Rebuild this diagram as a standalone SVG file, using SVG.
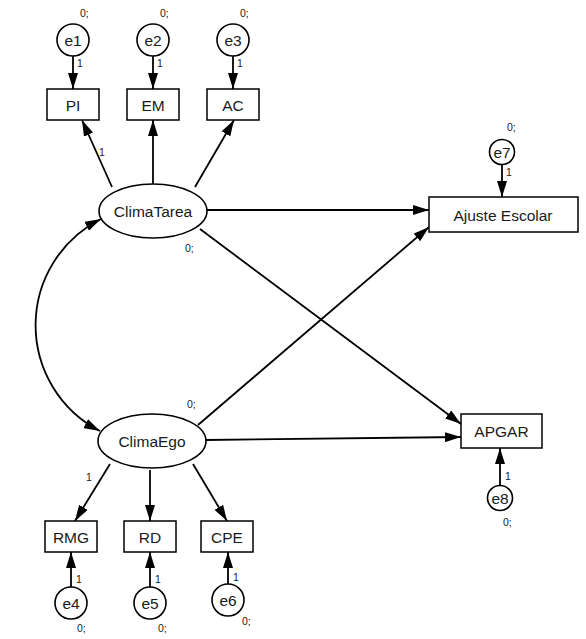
<svg xmlns="http://www.w3.org/2000/svg" width="586" height="639" viewBox="0 0 586 639">
<defs>
<marker id="ah" markerUnits="userSpaceOnUse" markerWidth="16" markerHeight="10" refX="16" refY="5" orient="auto-start-reverse">
<path d="M0,0 L16,5 L0,10 z" fill="#000"/>
</marker>
<style>
.box{fill:#fff;stroke:#000;stroke-width:1.5}
.lat{fill:#fff;stroke:#000;stroke-width:1.6}
.t{font-family:"Liberation Sans",Arial,sans-serif;font-size:15.5px;text-anchor:middle;dominant-baseline:central;fill:#1a1a1a}
.s{font-family:"Liberation Sans",Arial,sans-serif;font-size:10.5px;fill:#1a1a1a}
.c line,.c path{stroke:#000;stroke-width:1.8;fill:none;marker-end:url(#ah)}
</style>
</defs>
<rect width="586" height="639" fill="#fff"/>
<g class="c" id="connectors">
<line x1="73" y1="56" x2="73" y2="89"/>
<line x1="153" y1="56" x2="153" y2="89"/>
<line x1="233" y1="56" x2="233" y2="89"/>
<line x1="112" y1="187" x2="82" y2="120"/>
<line x1="153" y1="184" x2="153" y2="120"/>
<line x1="195" y1="187" x2="234" y2="120"/>
<line x1="207" y1="210" x2="429" y2="210"/>
<line x1="200" y1="229" x2="461" y2="424"/>
<line x1="198" y1="425" x2="429" y2="227"/>
<line x1="206" y1="440" x2="461" y2="437"/>
<path d="M101,219 A119,119 0 0 0 100,431" style="marker-start:url(#ah)"/>
<line x1="110" y1="464" x2="75" y2="521"/>
<line x1="150" y1="470" x2="150" y2="521"/>
<line x1="193" y1="464" x2="227" y2="521"/>
<line x1="71" y1="587" x2="71" y2="552"/>
<line x1="150" y1="587" x2="150" y2="552"/>
<line x1="228" y1="584" x2="228" y2="552"/>
<line x1="502" y1="165" x2="502" y2="197"/>
<line x1="500" y1="486" x2="500" y2="448"/>
</g>
<g id="labels">
<text class="s" x="77" y="67">1</text>
<text class="s" x="157" y="67">1</text>
<text class="s" x="237" y="67">1</text>
<text class="s" x="99" y="156">1</text>
<text class="s" x="86" y="481">1</text>
<text class="s" x="76" y="583">1</text>
<text class="s" x="155" y="583">1</text>
<text class="s" x="233" y="581">1</text>
<text class="s" x="506" y="176">1</text>
<text class="s" x="505" y="480">1</text>
</g>
<g id="e1"><circle cx="73" cy="40" r="16" class="lat"/><text class="t" x="73" y="40">e1</text><text class="s" x="80" y="17">0;</text></g>
<g id="e2"><circle cx="153" cy="40" r="16" class="lat"/><text class="t" x="153" y="40">e2</text><text class="s" x="160" y="17">0;</text></g>
<g id="e3"><circle cx="233" cy="40" r="16" class="lat"/><text class="t" x="233" y="40">e3</text><text class="s" x="240" y="17">0;</text></g>
<g id="PI"><rect x="47" y="89" width="52" height="31" class="box"/><text class="t" x="73" y="105">PI</text></g>
<g id="EM"><rect x="127" y="89" width="52" height="31" class="box"/><text class="t" x="153" y="105">EM</text></g>
<g id="AC"><rect x="207" y="89" width="52" height="31" class="box"/><text class="t" x="233" y="105">AC</text></g>
<g id="ClimaTarea"><ellipse cx="153" cy="211" rx="54" ry="27" class="lat"/><text class="t" x="153" y="211">ClimaTarea</text><text class="s" x="185" y="252">0;</text></g>
<g id="ClimaEgo"><ellipse cx="152" cy="441" rx="54" ry="27" class="lat"/><text class="t" x="152" y="441">ClimaEgo</text><text class="s" x="187" y="408">0;</text></g>
<g id="AjusteEscolar"><rect x="429" y="197" width="149" height="35" class="box"/><text class="t" x="503" y="215">Ajuste Escolar</text></g>
<g id="e7"><circle cx="502" cy="152" r="12.5" class="lat"/><text class="t" x="502" y="152">e7</text><text class="s" x="507" y="131">0;</text></g>
<g id="APGAR"><rect x="461" y="414" width="81" height="34" class="box"/><text class="t" x="501.5" y="431">APGAR</text></g>
<g id="e8"><circle cx="500" cy="498" r="12.5" class="lat"/><text class="t" x="500" y="498">e8</text><text class="s" x="503" y="526">0;</text></g>
<g id="RMG"><rect x="45" y="521" width="52" height="31" class="box"/><text class="t" x="71" y="537">RMG</text></g>
<g id="RD"><rect x="124" y="521" width="52" height="31" class="box"/><text class="t" x="150" y="537">RD</text></g>
<g id="CPE"><rect x="201" y="521" width="52" height="31" class="box"/><text class="t" x="227" y="537">CPE</text></g>
<g id="e4"><circle cx="71" cy="603" r="16" class="lat"/><text class="t" x="71" y="603">e4</text><text class="s" x="77" y="632">0;</text></g>
<g id="e5"><circle cx="150" cy="603" r="16" class="lat"/><text class="t" x="150" y="603">e5</text><text class="s" x="158" y="632">0;</text></g>
<g id="e6"><circle cx="228" cy="600" r="16" class="lat"/><text class="t" x="228" y="600">e6</text><text class="s" x="242" y="625">0;</text></g>
</svg>
